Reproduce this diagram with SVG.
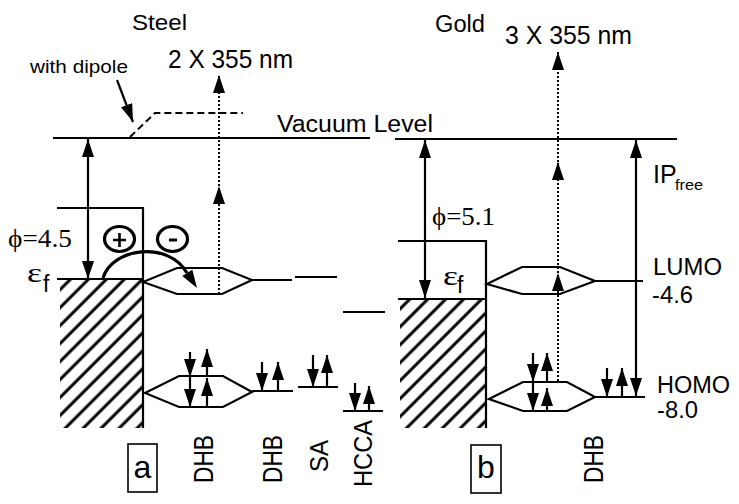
<svg xmlns="http://www.w3.org/2000/svg" width="739" height="504" viewBox="0 0 739 504">
<style>
.ln{stroke:#000;stroke-width:2.2;fill:none}
.thin{stroke:#000;stroke-width:1.6;fill:none}
.thk{stroke:#000;stroke-width:3.2;fill:none}
.dot{stroke:#000;stroke-width:2;stroke-dasharray:2 2;fill:none}
.dash{stroke:#000;stroke-width:2;stroke-dasharray:7 4;fill:none}
.sans{font-family:"Liberation Sans",Arial,sans-serif;fill:#000}
.serif{font-family:"Liberation Serif","DejaVu Serif","Times New Roman",serif;fill:#000}
</style>
<defs>
<marker id="ah" markerUnits="userSpaceOnUse" markerWidth="18" markerHeight="12" viewBox="0 0 18 12" refX="18" refY="6" orient="auto"><path d="M0,0L18,6L0,12z" fill="#000"/></marker>
<marker id="ahs" markerUnits="userSpaceOnUse" markerWidth="18" markerHeight="12" viewBox="0 0 18 12" refX="18" refY="6" orient="auto-start-reverse"><path d="M0,0L18,6L0,12z" fill="#000"/></marker>
<pattern id="hatch" patternUnits="userSpaceOnUse" width="12.7" height="12.7" patternTransform="rotate(45)"><line x1="6" y1="-1" x2="6" y2="14" stroke="#000" stroke-width="3"/></pattern>
</defs>
<rect width="739" height="504" fill="#fff"/>

<g id="labels">
<text class="sans" x="132" y="30" font-size="22" textLength="55" lengthAdjust="spacingAndGlyphs">Steel</text>
<text class="sans" x="30" y="73" font-size="19" textLength="98" lengthAdjust="spacingAndGlyphs">with dipole</text>
<text class="sans" x="168" y="68" font-size="25" textLength="125" lengthAdjust="spacingAndGlyphs">2 X 355 nm</text>
<text class="sans" x="435" y="32" font-size="23" textLength="50" lengthAdjust="spacingAndGlyphs">Gold</text>
<text class="sans" x="505" y="44" font-size="25" textLength="127" lengthAdjust="spacingAndGlyphs">3 X 355 nm</text>
<text class="sans" x="277" y="132" font-size="23" textLength="156" lengthAdjust="spacingAndGlyphs">Vacuum Level</text>
<text class="sans" x="653" y="183" font-size="25">IP</text>
<text class="sans" x="675" y="190" font-size="15" textLength="28" lengthAdjust="spacingAndGlyphs">free</text>
<text class="sans" x="653" y="275" font-size="23" textLength="69" lengthAdjust="spacingAndGlyphs">LUMO</text>
<text class="sans" x="652" y="303" font-size="23" textLength="41" lengthAdjust="spacingAndGlyphs">-4.6</text>
<text class="sans" x="657" y="393" font-size="23" textLength="73" lengthAdjust="spacingAndGlyphs">HOMO</text>
<text class="sans" x="657" y="418" font-size="23" textLength="41" lengthAdjust="spacingAndGlyphs">-8.0</text>
<text class="serif" x="8" y="247" font-size="25" textLength="64" lengthAdjust="spacingAndGlyphs">ϕ=4.5</text>
<text class="serif" x="432" y="225" font-size="25" textLength="63" lengthAdjust="spacingAndGlyphs">ϕ=5.1</text>
<text class="serif" x="27" y="282" font-size="27" textLength="15" lengthAdjust="spacingAndGlyphs">ε</text>
<text class="sans" x="43" y="292" font-size="23">f</text>
<text class="serif" x="443" y="285" font-size="27" textLength="15" lengthAdjust="spacingAndGlyphs">ε</text>
<text class="sans" x="457" y="293" font-size="23">f</text>
<text class="sans" transform="translate(213,483) rotate(-90)" font-size="27" textLength="48" lengthAdjust="spacingAndGlyphs">DHB</text>
<text class="sans" transform="translate(282,483) rotate(-90)" font-size="27" textLength="48" lengthAdjust="spacingAndGlyphs">DHB</text>
<text class="sans" transform="translate(328,472) rotate(-90)" font-size="25" textLength="32" lengthAdjust="spacingAndGlyphs">SA</text>
<text class="sans" transform="translate(372,487) rotate(-90)" font-size="26" textLength="67" lengthAdjust="spacingAndGlyphs">HCCA</text>
<text class="sans" transform="translate(603,483) rotate(-90)" font-size="27" textLength="48" lengthAdjust="spacingAndGlyphs">DHB</text>
</g>

<g id="panel-a-box">
<rect x="128" y="444" width="29" height="48" class="thin"/>
<text class="sans" x="142.5" y="478" font-size="32" text-anchor="middle">a</text>
</g>
<g id="panel-b-box">
<rect x="471" y="445" width="30" height="48" class="thin"/>
<text class="sans" x="486" y="478" font-size="32" text-anchor="middle">b</text>
</g>

<g id="steel-metal">
<rect x="60" y="279" width="83" height="149" fill="url(#hatch)"/>
<path class="ln" d="M57,208H143V428M57,279H143"/>
</g>
<g id="gold-metal">
<rect x="400" y="299" width="86" height="129" fill="url(#hatch)"/>
<path class="ln" d="M398,241H486V428M398,299H486"/>
</g>

<g id="vacuum-levels">
<line class="ln" x1="53" y1="138" x2="370" y2="138"/>
<line class="ln" x1="395" y1="139" x2="677" y2="139"/>
<path class="dash" d="M130,137L155,113H243"/>
</g>

<g id="steel-orbitals">
<path class="ln" d="M143,282L177,268H222L252,280L222,294H177Z"/>
<line class="ln" x1="252" y1="280" x2="292" y2="280"/>
<line class="ln" x1="295" y1="277" x2="337" y2="277"/>
<line class="ln" x1="343" y1="312" x2="385" y2="312"/>
<path class="ln" d="M145,393L179,376H223L252,392L223,407H179Z"/>
<line class="ln" x1="252" y1="391" x2="293" y2="391"/>
<line class="ln" x1="298" y1="387" x2="338" y2="387"/>
<line class="ln" x1="343" y1="411" x2="383" y2="411"/>
</g>

<g id="gold-orbitals">
<path class="ln" d="M487,284L522,267H560L595,281L560,294H522Z"/>
<line class="ln" x1="595" y1="281" x2="643" y2="281"/>
<path class="ln" d="M489,399L523,382H567L595,397L567,411H523Z"/>
<line class="ln" x1="595" y1="397" x2="645" y2="397"/>
</g>

<g id="charges">
<ellipse cx="119.5" cy="239" rx="15" ry="12.5" class="thk"/>
<path d="M113,240H126M119.5,233V247" stroke="#000" stroke-width="2.6"/>
<ellipse cx="172.5" cy="239" rx="15" ry="12.5" class="thk"/>
<path d="M169,240H177" stroke="#000" stroke-width="3"/>
</g>

<g id="connectors">
<line class="ln" x1="117" y1="80" x2="133" y2="122" marker-end="url(#ah)"/>
<path class="thk" d="M103,278C112,248 168,240 187,273"/>
<polygon points="197,288 192.3,269.7 182.3,276.1" fill="#000"/>
<line class="ln" x1="88" y1="139" x2="88" y2="279" marker-start="url(#ahs)" marker-end="url(#ahs)"/>
<line class="ln" x1="425" y1="140" x2="425" y2="298" marker-start="url(#ahs)" marker-end="url(#ahs)"/>
<line class="ln" x1="636" y1="140" x2="636" y2="396" marker-start="url(#ahs)" marker-end="url(#ahs)"/>
<line class="dot" x1="219" y1="294" x2="219" y2="186" marker-end="url(#ah)"/>
<line class="dot" x1="219" y1="186" x2="219" y2="75" marker-end="url(#ah)"/>
<line class="dot" x1="558" y1="381" x2="558" y2="273" marker-end="url(#ah)"/>
<line class="dot" x1="558" y1="273" x2="558" y2="162" marker-end="url(#ah)"/>
<line class="dot" x1="558" y1="162" x2="558" y2="52" marker-end="url(#ah)"/>
<line class="ln" x1="190" y1="352" x2="190" y2="377" marker-end="url(#ah)"/>
<line class="ln" x1="207" y1="376" x2="207" y2="349" marker-end="url(#ah)"/>
<line class="ln" x1="190" y1="377" x2="190" y2="407" marker-end="url(#ah)"/>
<line class="ln" x1="207" y1="407" x2="207" y2="378" marker-end="url(#ah)"/>
<line class="ln" x1="262" y1="362" x2="262" y2="391" marker-end="url(#ah)"/>
<line class="ln" x1="278" y1="391" x2="278" y2="362" marker-end="url(#ah)"/>
<line class="ln" x1="313" y1="355" x2="313" y2="387" marker-end="url(#ah)"/>
<line class="ln" x1="327" y1="387" x2="327" y2="355" marker-end="url(#ah)"/>
<line class="ln" x1="355" y1="383" x2="355" y2="411" marker-end="url(#ah)"/>
<line class="ln" x1="369" y1="411" x2="369" y2="386" marker-end="url(#ah)"/>
<line class="ln" x1="533" y1="353" x2="533" y2="382" marker-end="url(#ah)"/>
<line class="ln" x1="547" y1="382" x2="547" y2="353" marker-end="url(#ah)"/>
<line class="ln" x1="533" y1="382" x2="533" y2="411" marker-end="url(#ah)"/>
<line class="ln" x1="547" y1="411" x2="547" y2="388" marker-end="url(#ah)"/>
<line class="ln" x1="607" y1="368" x2="607" y2="397" marker-end="url(#ah)"/>
<line class="ln" x1="622" y1="397" x2="622" y2="368" marker-end="url(#ah)"/>
</g>
</svg>
